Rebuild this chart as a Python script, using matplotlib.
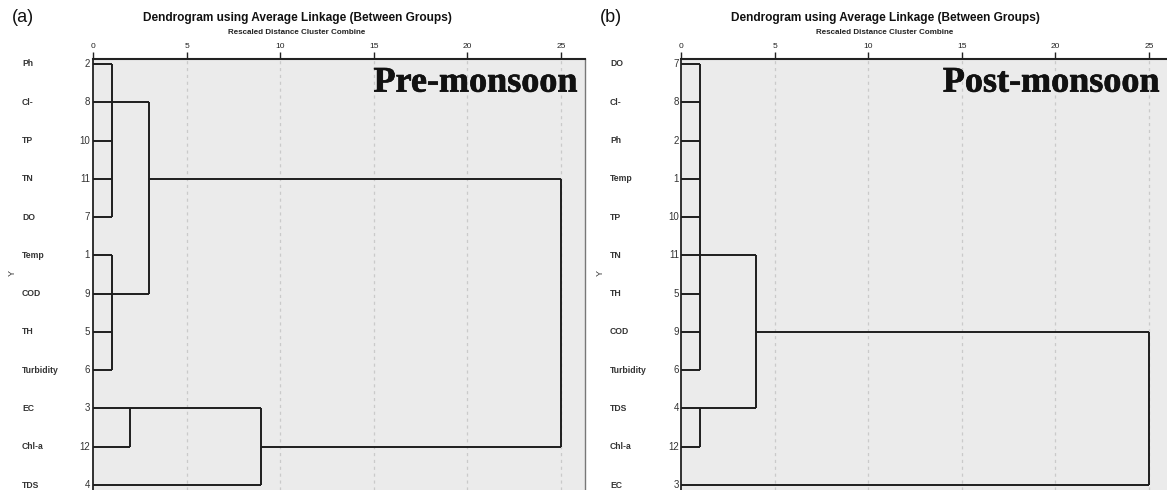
import matplotlib
matplotlib.use('Agg')
import matplotlib.pyplot as plt
import matplotlib.transforms as mtransforms
import matplotlib.patheffects as pe

W, H = 1167, 490

# ── Data ─────────────────────────────────────────────────────────────────────
LEAVES_A = ["Ph", "Cl-", "TP", "TN", "DO", "Temp", "COD", "TH", "Turbidity",
            "EC", "Chl-a", "TDS"]
IDS_A = [2, 8, 10, 11, 7, 1, 9, 5, 6, 3, 12, 4]
# (name, children, rescaled distance, leaf row where the joined cluster continues)
MERGES_A = [
    ("m0", ["Ph", "Cl-", "TP", "TN", "DO"], 1.0, "Cl-"),
    ("m1", ["Temp", "COD", "TH", "Turbidity"], 1.0, "COD"),
    ("m2", ["m0", "m1"], 3.0, "TN"),
    ("m3", ["EC", "Chl-a"], 2.0, "EC"),
    ("m4", ["m3", "TDS"], 9.0, "Chl-a"),
    ("m5", ["m2", "m4"], 25.0, None),
]

LEAVES_B = ["DO", "Cl-", "Ph", "Temp", "TP", "TN", "TH", "COD", "Turbidity",
            "TDS", "Chl-a", "EC"]
IDS_B = [7, 8, 2, 1, 10, 11, 5, 9, 6, 4, 12, 3]
MERGES_B = [
    ("m0", ["DO", "Cl-", "Ph", "Temp", "TP", "TN", "TH", "COD", "Turbidity"], 1.0, "TN"),
    ("m1", ["TDS", "Chl-a"], 1.0, "TDS"),
    ("m2", ["m0", "m1"], 4.0, "COD"),
    ("m3", ["m2", "EC"], 25.0, None),
]

X_TICKS = [0, 5, 10, 15, 20, 25]
TITLE = "Dendrogram using Average Linkage (Between Groups)"
SUBTITLE = "Rescaled Distance Cluster Combine"

SANS = "Liberation Sans"
LINE_C = "#1e1e1e"


def fx(px):
    return px / W


def fy(py):
    return 1 - py / H


def draw_panel(fig, left_px, right_px, xmax, leaves, ids, merges, tag, season,
               name_px, num_px, ylab_px, right_spine):
    ax = fig.add_axes([fx(left_px), 0, fx(right_px - left_px), fy(59)])
    ax.set_facecolor("#ebebeb")
    ax.set_xlim(0, xmax)
    ax.set_ylim(11.13, -0.13)

    # grid
    for t in X_TICKS[1:]:
        ax.axvline(t, color="#cacaca", lw=0.9, ls=(0, (2.5, 3)), zorder=1)

    row = {name: i for i, name in enumerate(leaves)}
    pos = {name: (i, 0.0) for i, name in enumerate(leaves)}   # anchor row, start x
    for name, children, dist, anchor in merges:
        rows = []
        for ch in children:
            r, x0 = pos[ch]
            ax.plot([x0, dist], [r, r], color=LINE_C, lw=1.4, zorder=3,
                    solid_capstyle='butt')
            rows.append(r)
        ax.plot([dist, dist], [min(rows), max(rows)], color=LINE_C, lw=1.4,
                zorder=3, solid_capstyle='butt')
        if anchor is not None:
            pos[name] = (row[anchor], dist)

    ax.xaxis.tick_top()
    ax.set_xticks(X_TICKS)
    ax.set_xticklabels([str(t) for t in X_TICKS], fontsize=6, family=SANS)
    ax.tick_params(axis='x', direction='out', length=5, width=1, pad=1.5,
                   colors="#222222")
    ax.set_yticks([])

    ax.spines['top'].set_linewidth(1.5)
    ax.spines['top'].set_color("#222222")
    ax.spines['left'].set_linewidth(1.3)
    ax.spines['left'].set_color("#222222")
    ax.spines['bottom'].set_visible(False)
    if right_spine:
        ax.spines['right'].set_color("#777777")
        ax.spines['right'].set_linewidth(1.0)
    else:
        ax.spines['right'].set_visible(False)

    trans = mtransforms.blended_transform_factory(fig.transFigure, ax.transData)
    for i, (lab, n) in enumerate(zip(leaves, ids)):
        ax.text(fx(name_px), i, lab, transform=trans, ha='left', va='center',
                fontsize=6.2, fontweight='bold', family=SANS, color="#333333",
                clip_on=False)
        ax.text(fx(num_px), i, str(n), transform=trans, ha='right', va='center',
                fontsize=7, family=SANS, color="#333333", clip_on=False)

    ax.text(fx(ylab_px), 5.45, "Y", transform=trans, ha='center', va='center',
            rotation=90, fontsize=6.5, family=SANS, color="#333333")

    title_cx = left_px + 204
    fig.text(fx(title_cx), fy(18), TITLE, ha='center', va='center',
             fontsize=8.6, fontweight='bold', family=SANS, color="#111111")
    fig.text(fx(title_cx), fy(32), SUBTITLE, ha='center', va='center',
             fontsize=5.8, fontweight='bold', family=SANS, color="#222222")
    fig.text(fx(left_px - 70), fy(18), tag, ha='center', va='center',
             fontsize=13, family=SANS, color="#111111")

    ax.text(0.985, 0.944, season, transform=ax.transAxes, ha='right',
            va='center', fontsize=26, fontweight='bold',
            family="Liberation Serif", color="#111111", zorder=5,
            path_effects=[pe.withStroke(linewidth=0.5, foreground="#111111")])
    return ax


fig = plt.figure(figsize=(W / 100, H / 100), dpi=100)
fig.patch.set_facecolor("white")

draw_panel(fig, 93, 585, (585 - 93) / 18.72, LEAVES_A, IDS_A, MERGES_A,
           "(a)", "Pre-monsoon", 22, 90, 12, True)
draw_panel(fig, 681, 1167, (1167 - 681) / 18.72, LEAVES_B, IDS_B, MERGES_B,
           "(b)", "Post-monsoon", 610, 679, 600, False)

plt.savefig("out.png", dpi=100)
plt.close()
